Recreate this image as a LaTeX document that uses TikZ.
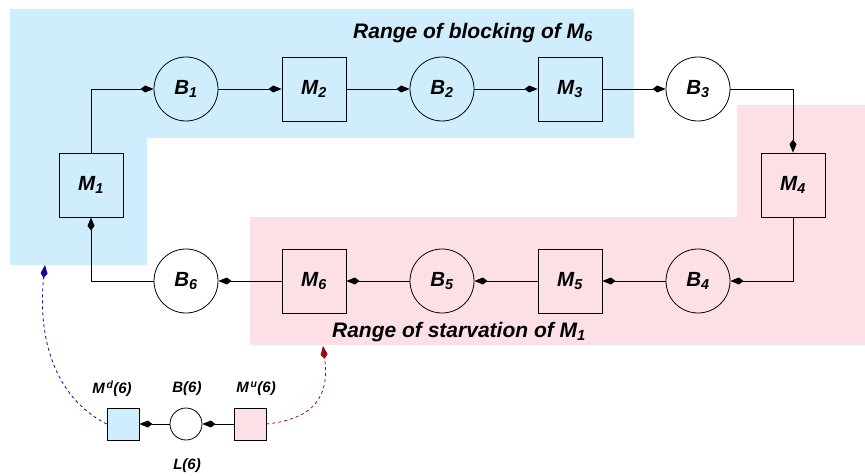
\documentclass[tikz,border=0pt]{standalone}
\usepackage{fontspec}
\setsansfont{Liberation Sans}
\usetikzlibrary{arrows.meta}

\definecolor{blockblue}{RGB}{207,237,252}
\definecolor{starvepink}{RGB}{253,224,230}
\definecolor{linkblue}{RGB}{10,10,150}
\definecolor{linkred}{RGB}{150,10,10}

\begin{document}
\begin{tikzpicture}[x=1pt, y=-1pt,
    every node/.style={font=\sffamily\bfseries\itshape\fontsize{20.5}{24}\selectfont},
    mbox/.style={draw, rectangle, minimum size=64pt, inner sep=0pt, line width=0.8pt},
    bcirc/.style={draw, circle, minimum size=64pt, inner sep=0pt, line width=0.8pt},
    smallbox/.style={draw, rectangle, minimum size=32pt, inner sep=0pt, line width=0.8pt},
    smallcirc/.style={draw, circle, minimum size=32pt, inner sep=0pt, line width=0.8pt},
    rangetext/.style={font=\sffamily\bfseries\itshape\fontsize{21}{24}\selectfont},
    smalltext/.style={font=\sffamily\bfseries\itshape\fontsize{15}{18}\selectfont},
    flow/.style={line width=0.8pt, -{Kite[length=13pt, width=7pt, inset=4.5pt]}},
    link/.style={dashed, line width=0.8pt, -{Kite[length=13pt, width=7pt, inset=4.5pt]}}]
    \useasboundingbox (0,0) rectangle (865,476);

    % shaded ranges
    \fill[blockblue] (10,9) -- (634,9) -- (634,138) -- (147,138) -- (147,265) -- (10,265) -- cycle;
    \fill[starvepink] (250,217) -- (737,217) -- (737,105) -- (865,105) -- (865,345) -- (250,345) -- cycle;

    \node (blocking) at (473,33) [rangetext] {Range of blocking of M\textsubscript{6}};
    \node (starving) at (459,332) [rangetext] {Range of starvation of M\textsubscript{1}};

    % production line
    \node (m1) at (91,185) [mbox] {M\textsubscript{1}};
    \node (b1) at (186,89) [bcirc] {B\textsubscript{1}};
    \node (m2) at (314,89) [mbox] {M\textsubscript{2}};
    \node (b2) at (442,89) [bcirc] {B\textsubscript{2}};
    \node (m3) at (570,89) [mbox] {M\textsubscript{3}};
    \node (b3) at (698,89) [bcirc] {B\textsubscript{3}};
    \node (m4) at (793,185) [mbox] {M\textsubscript{4}};
    \node (b4) at (698,281) [bcirc] {B\textsubscript{4}};
    \node (m5) at (570,281) [mbox] {M\textsubscript{5}};
    \node (b5) at (442,281) [bcirc] {B\textsubscript{5}};
    \node (m6) at (314,281) [mbox] {M\textsubscript{6}};
    \node (b6) at (186,281) [bcirc] {B\textsubscript{6}};

    \draw[flow] (m1.north) |- (b1.west);
    \draw[flow] (b1) -- (m2);
    \draw[flow] (m2) -- (b2);
    \draw[flow] (b2) -- (m3);
    \draw[flow] (m3) -- (b3);
    \draw[flow] (b3.east) -| (m4.north);
    \draw[flow] (m4.south) |- (b4.east);
    \draw[flow] (b4) -- (m5);
    \draw[flow] (m5) -- (b5);
    \draw[flow] (b5) -- (m6);
    \draw[flow] (m6) -- (b6);
    \draw[flow] (b6.west) -| (m1.south);

    % two-machine line
    \node (md) at (123,424) [smallbox, fill=blockblue] {};
    \node (bsix) at (186,424) [smallcirc] {};
    \node (mu) at (250,424) [smallbox, fill=starvepink] {};
    \node (mdlabel) at (112,389) [smalltext] {M\textsuperscript{\,d}(6)};
    \node (blabel) at (187,389) [smalltext] {B(6)};
    \node (mulabel) at (256,389) [smalltext] {M\textsuperscript{\,u}(6)};
    \node (llabel) at (187,466) [smalltext] {L(6)};

    \draw[flow] (bsix) -- (md);
    \draw[flow] (mu) -- (bsix);

    \coordinate (bluetip) at (45,265);
    \coordinate (redtip) at (323,346);
    \draw[link, linkblue] (md.west) .. controls (50,395) and (38,330) .. (bluetip);
    \draw[link, linkred] (mu.east) .. controls (325,418) and (328,385) .. (redtip);
\end{tikzpicture}
\end{document}
